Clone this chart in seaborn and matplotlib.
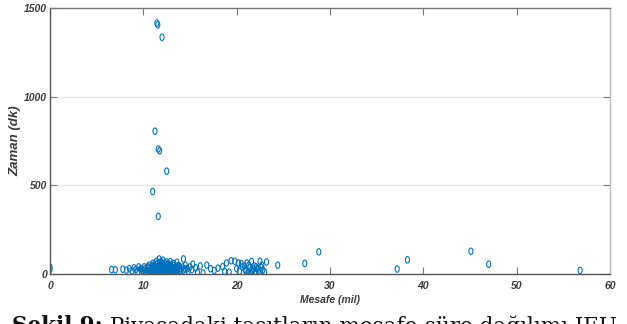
import matplotlib
matplotlib.use("Agg")
import matplotlib.pyplot as plt
import numpy as np
import pandas as pd
import seaborn as sns
from matplotlib.path import Path
from matplotlib.markers import MarkerStyle

# ---------------- data ----------------
outlier_x = [11.45, 11.55, 12.0, 11.25, 11.6, 11.75, 12.5, 11.0, 11.6, 0.0, 0.0,
             28.8, 27.3, 24.4, 37.2, 38.3, 45.1, 47.0, 56.8]
outlier_y = [1415, 1405, 1335, 805, 705, 695, 580, 465, 325, 40, 25,
             125, 60, 50, 28, 80, 128, 55, 20]

left_x = [6.6, 7.0, 7.8, 8.2, 8.5, 8.8, 9.0, 9.2, 9.4, 9.5, 9.7, 9.9]
left_y = [25, 24, 27, 22, 30, 18, 35, 25, 12, 40, 28, 20]

right_x = [14.3, 14.5, 14.7, 14.8, 15.0, 15.2, 15.3, 15.6, 15.8, 16.1, 16.4, 16.8, 17.2]
right_y = [85, 50, 30, 15, 40, 25, 55, 35, 10, 45, 5, 50, 30]

mid_x = [17.6, 18.0, 18.5, 18.9, 18.7, 19.4, 19.8, 20.2, 20.5, 21.1, 21.6, 22.5, 23.2,
         20.0, 20.3, 20.6, 20.9, 21.2, 21.4, 21.5, 21.7, 21.9, 22.0, 22.2, 22.4, 22.6,
         22.8, 23.0, 21.3, 21.8, 22.1, 21.0, 20.8, 22.7, 21.6, 22.3, 19.2]
mid_y = [20, 33, 41, 62, 15, 75, 72, 62, 58, 62, 70, 72, 68,
         30, 15, 40, 25, 10, 35, 2, 20, 45, 15, 30, 8, 38,
         22, 12, 50, 28, 40, 18, 45, 50, 12, 22, 10]

main_x = [10.3, 10.7, 11.0, 11.3, 11.6, 11.9, 12.2, 12.5, 12.8, 13.1, 13.4, 13.7, 14.0,
          10.0, 10.4, 10.8, 11.1, 11.4, 11.7, 12.0, 12.3, 12.6, 12.9, 13.2, 13.5, 13.9, 14.3,
          9.8, 10.2, 10.6, 10.9, 11.2, 11.5, 11.8, 12.1, 12.4, 12.7, 13.0, 13.3, 13.6, 14.0, 14.5,
          10.1, 10.5, 10.9, 11.3, 11.6, 11.9, 12.2, 12.5, 12.8, 13.1, 13.4, 13.8, 14.2,
          10.6, 11.0, 11.4, 11.7, 12.0, 12.3, 12.6, 12.9, 13.3, 13.7,
          11.0, 11.5, 11.9, 12.3, 12.7, 13.2,
          11.4, 11.9, 12.5, 10.9, 11.8, 12.6, 13.3,
          10.45, 10.85, 11.15, 11.45, 11.75, 12.05, 12.35, 12.65, 12.95, 13.25, 13.55, 13.85,
          10.55, 10.95, 11.25, 11.55, 11.85, 12.15, 12.45, 12.75, 13.05, 13.35, 13.65,
          11.7, 12.1, 12.9, 13.6]
main_y = [10, 12, 9, 11, 8, 10, 12, 9, 11, 10, 8, 12, 10,
          20, 21, 19, 22, 18, 20, 21, 19, 22, 20, 18, 21, 19, 22,
          30, 29, 31, 28, 32, 30, 29, 31, 30, 28, 32, 30, 29, 31, 28,
          40, 41, 39, 42, 38, 40, 41, 39, 42, 40, 38, 41, 39,
          50, 49, 51, 52, 48, 50, 51, 49, 50, 48,
          60, 61, 59, 62, 58, 60,
          72, 70, 68, 4, 5, 3, 6,
          35, 25, 45, 15, 55, 35, 25, 45, 15, 35, 25, 45,
          15, 45, 25, 35, 65, 15, 45, 25, 35, 15, 35,
          85, 78, 70, 66]

x_ticks = [0, 10, 20, 30, 40, 50, 60]
y_ticks = [0, 500, 1000, 1500]
x_label = "Mesafe (mil)"
y_label = "Zaman (dk)"
caption_bold = "Şekil 9:"
caption_rest = " Piyasadaki taşıtların mesafe-süre dağılımı IEU"

df = pd.DataFrame({
    "x": outlier_x + left_x + right_x + mid_x + main_x,
    "y": outlier_y + left_y + right_y + mid_y + main_y,
})

# ---------------- styling ----------------
sns.set_theme(style="white")
plt.rcParams["font.family"] = ["Liberation Sans Narrow", "Liberation Sans", "DejaVu Sans"]

fig = plt.figure(figsize=(6.27, 3.24), dpi=100)
ax = fig.add_axes([50 / 627, 1 - 274 / 324, 560 / 627, 266 / 324])

# narrow ellipse marker (taller than wide)
circ = Path.unit_circle()
ell = Path(circ.vertices * np.array([0.62, 1.0]), circ.codes)
mk = MarkerStyle(ell)

blue = "#0072BD"
sns.scatterplot(data=df, x="x", y="y", ax=ax, marker=mk, s=22,
                facecolors="none", edgecolor=blue, linewidth=0.8, legend=False)

ax.set_xlim(0, 60)
ax.set_ylim(0, 1500)
ax.set_xticks(x_ticks)
ax.set_yticks(y_ticks)
ax.set_xticklabels([str(t) for t in x_ticks])
ax.set_yticklabels([str(t) for t in y_ticks])

ax.yaxis.grid(True, color="#e6e6e6", linewidth=0.8)
ax.xaxis.grid(False)
ax.set_axisbelow(True)

tick_col = "#3a3a3a"
ax.tick_params(axis="both", which="major", direction="in", length=5, width=0.8,
               color="#777777", labelsize=7.5, labelcolor=tick_col,
               top=True, right=True, bottom=True, left=True)
ax.tick_params(axis="x", pad=5)
ax.tick_params(axis="y", pad=2)
for lab in ax.get_xticklabels() + ax.get_yticklabels():
    lab.set_fontweight("bold")
    lab.set_fontstyle("italic")

for side in ["left", "bottom"]:
    ax.spines[side].set_color("#555555")
    ax.spines[side].set_linewidth(1.0)
ax.spines["top"].set_color("#777777")
ax.spines["top"].set_linewidth(1.0)
ax.spines["right"].set_color("#bbbbbb")
ax.spines["right"].set_linewidth(1.0)

ax.set_xlabel(x_label, fontsize=7.5, fontweight="bold", fontstyle="italic",
              color=tick_col, labelpad=3)
ax.set_ylabel(y_label, fontsize=9.5, fontweight="bold", fontstyle="italic",
              color=tick_col, labelpad=2)

# caption (cut off at the bottom as in the reference)
cap_family = ["DejaVu Serif"]
t1 = fig.text(12 / 627, 1 - 315 / 324, caption_bold, fontsize=15.5, fontweight="bold",
              family=cap_family, va="top", ha="left", color="#111111")
fig.canvas.draw()
bb = t1.get_window_extent()
fig.text(bb.x1 / 627, 1 - 315 / 324, caption_rest, fontsize=15.5,
         family=cap_family, va="top", ha="left", color="#111111")

fig.savefig("out.png", dpi=100)
